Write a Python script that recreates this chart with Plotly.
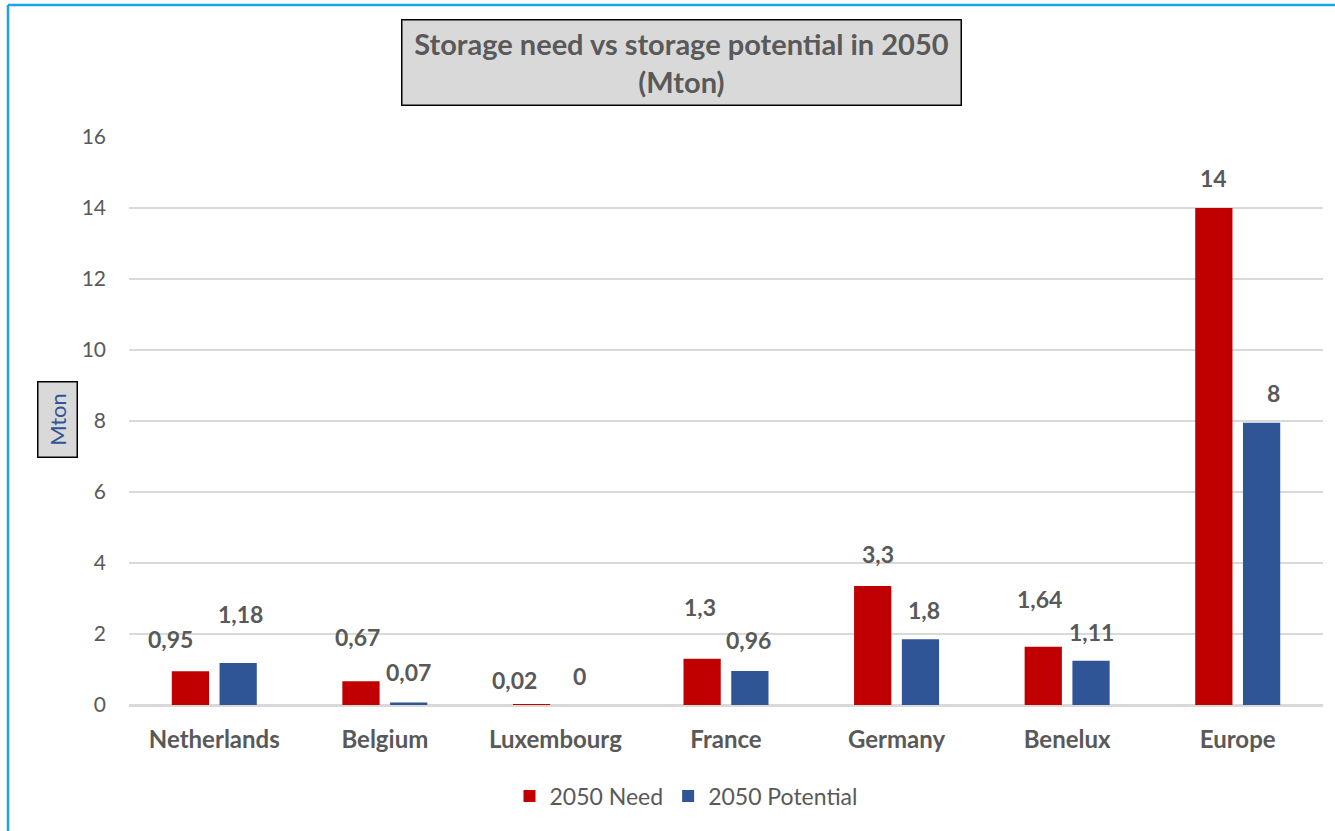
import plotly.graph_objects as go

categories = ["Netherlands", "Belgium", "Luxembourg", "France", "Germany", "Benelux", "Europe"]
need = [0.95, 0.67, 0.02, 1.3, 3.35, 1.64, 14]
potential = [1.18, 0.07, 0, 0.96, 1.85, 1.25, 7.95]
need_labels = ["0,95", "0,67", "0,02", "1,3", "3,3", "1,64", "14"]
potential_labels = ["1,18", "0,07", "0", "0,96", "1,8", "1,11", "8"]
y_ticks = [0, 2, 4, 6, 8, 10, 12, 14, 16]

# label placement nudges (pixels), style only
need_dx = [-20, -3, -17, -2, 5, -4, 0]
need_dy = [16, 28, 8, 36, 16, 32, 14]
pot_dx = [2, 0, 0, -1, 4, 0, 12]
pot_dy = [33, 15, 13, 15, 13, 13, 14]

FONT = "Lato"
GRAY = "#595959"
RED = "#c00000"
BLUE = "#2f5597"

L, R, T, B = 129, 12, 137, 126
W, H = 1335, 831
PW, PH = W - L - R, H - T - B

def px(x):
    return (x - L) / PW

def py(y):
    return (H - B - y) / PH

fig = go.Figure()
fig.add_trace(go.Bar(name="2050 Need", x=categories, y=need, marker=dict(color=RED, line=dict(width=0))))
fig.add_trace(go.Bar(name="2050 Potential", x=categories, y=potential, marker=dict(color=BLUE, line=dict(width=0))))

annotations = []
slot = PW / len(categories) * (1 - 0.44) / 2
for i, c in enumerate(categories):
    annotations.append(dict(x=c, y=need[i], text=need_labels[i], showarrow=False, xref="x", yref="y",
                            xshift=-slot / 2 + need_dx[i], yshift=need_dy[i], yanchor="bottom",
                            font=dict(family=FONT, size=23, color=GRAY, weight="bold")))
    annotations.append(dict(x=c, y=potential[i], text=potential_labels[i], showarrow=False, xref="x", yref="y",
                            xshift=slot / 2 + pot_dx[i], yshift=pot_dy[i], yanchor="bottom",
                            font=dict(family=FONT, size=23, color=GRAY, weight="bold")))

# title box
annotations.append(dict(x=px(681), y=py(62), xref="paper", yref="paper", showarrow=False,
                        text="Storage need vs storage potential in 2050<br>(Mton)",
                        font=dict(family=FONT, size=29, color=GRAY, weight="bold"),
                        bgcolor="#d9d9d9", bordercolor="#000000", borderwidth=1.5,
                        width=556, height=82, align="center", valign="middle",
                        xanchor="center", yanchor="middle"))
# y axis title box
annotations.append(dict(x=px(58), y=py(420), xref="paper", yref="paper", showarrow=False,
                        text="Mton", textangle=-90,
                        font=dict(family=FONT, size=22, color="#2f5597"),
                        bgcolor="#d9d9d9", bordercolor="#000000", borderwidth=1.5,
                        width=72, height=36, xanchor="center", yanchor="middle"))

shapes = [
    dict(type="line", xref="paper", yref="paper", x0=px(8), x1=px(1340), y0=py(5), y1=py(5),
         line=dict(color="#1aa3e8", width=2.5)),
    dict(type="line", xref="paper", yref="paper", x0=px(8), x1=px(8), y0=py(5), y1=py(835),
         line=dict(color="#1aa3e8", width=2.5)),
]

fig.update_layout(
    width=W, height=H,
    margin=dict(l=L, r=R, t=T, b=B, autoexpand=False),
    paper_bgcolor="white", plot_bgcolor="white",
    barmode="group", bargap=0.44, bargroupgap=0.22,
    font=dict(family=FONT, color=GRAY),
    showlegend=True,
    legend=dict(orientation="h", x=px(686), y=py(796), xanchor="center", yanchor="middle",
                font=dict(family=FONT, size=23, color=GRAY), itemwidth=30),
    annotations=annotations,
    shapes=shapes,
    xaxis=dict(showgrid=False, showline=True, linecolor="#d9d9d9", linewidth=1.5,
               tickfont=dict(family=FONT, size=24, color=GRAY, weight="bold"),
               ticks="", ticklabelstandoff=12),
    yaxis=dict(range=[0, 16], tickvals=y_ticks, showgrid=True, gridcolor="#d9d9d9", gridwidth=1.5,
               zeroline=True, zerolinecolor="#d9d9d9", zerolinewidth=1.5,
               tickfont=dict(family=FONT, size=21, color=GRAY), ticks="", ticklabelstandoff=22,
               showline=False),
)

fig.write_html("out.html")
